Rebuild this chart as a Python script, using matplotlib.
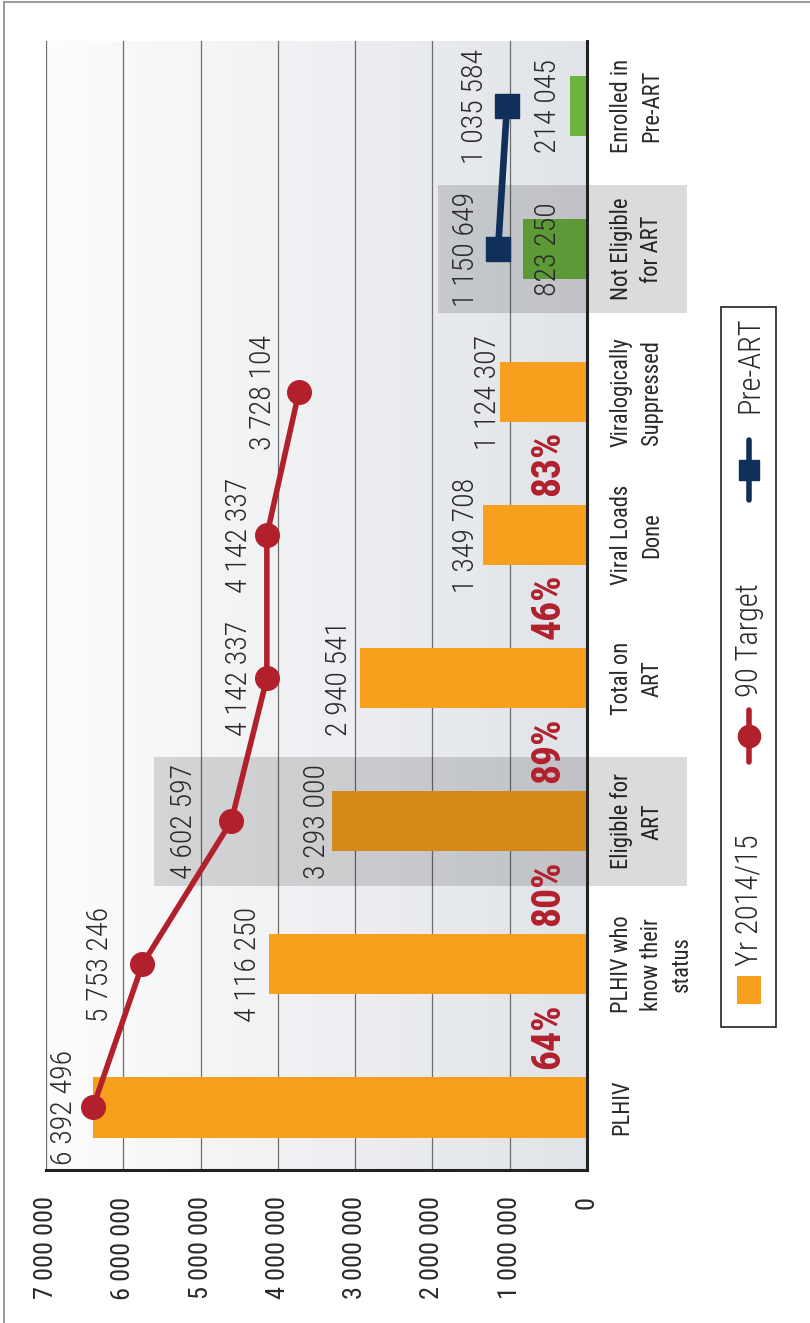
import numpy as np
import matplotlib
matplotlib.use("Agg")
import matplotlib.pyplot as plt
from matplotlib.patches import Rectangle
from matplotlib.lines import Line2D
from matplotlib.colors import LinearSegmentedColormap

plt.rcParams['font.family'] = ['Roboto Condensed', 'Roboto', 'DejaVu Sans']

# ---------------- data ----------------
categories = ["PLHIV", "PLHIV who\nknow their\nstatus", "Eligible for\nART", "Total on\nART",
              "Viral Loads\nDone", "Viralogically\nSuppressed", "Not Eligible\nfor ART", "Enrolled in\nPre-ART"]
bar_values = [6392496, 4116250, 3293000, 2940541, 1349708, 1124307, 823250, 214045]
target_values = [6392496, 5753246, 4602597, 4142337, 4142337, 3728104]
preart_values = [1150649, 1035584]
percentages = [64, 80, 89, 46, 83]
value_ticks = [0, 1000000, 2000000, 3000000, 4000000, 5000000, 6000000, 7000000]
legend_labels = ["Yr 2014/15", "90 Target", "Pre-ART"]

# ---------------- style ----------------
ORANGE = '#F7A01E'
GREEN = '#6DB33F'
RED = '#B2202C'
NAVY = '#10305A'
TXT = '#2A2A2A'

W, H = 810, 1323
fig = plt.figure(figsize=(W / 100, H / 100), dpi=100)
fig.patch.set_facecolor('white')

def fx(px):
    return px / W

def fy(py):
    return 1 - py / H

ax = fig.add_axes([fx(46), fy(1170), fx(587) - fx(46), fy(41) - fy(1170)])
ax.set_facecolor('none')

# gradient background
cmap = LinearSegmentedColormap.from_list('bg', ['#FDFDFD', '#E0E3E8'])
ax.imshow(np.linspace(0, 1, 256).reshape(1, -1), cmap=cmap, extent=[0, 1, 0, 1],
          transform=ax.transAxes, aspect='auto', zorder=0)

n = len(categories)
ypos = np.arange(n)

colors = [ORANGE] * 6 + [GREEN] * 2
ax.barh(ypos, bar_values, height=0.42, color=colors, zorder=2)

# highlighted bands (Eligible for ART / Not Eligible for ART)
for yc, x_left in [(2, 5.6e6), (6, 1.93e6)]:
    ax.add_patch(Rectangle((-1.29e6, yc - 0.45), x_left + 1.29e6, 0.9, facecolor='black',
                           alpha=0.14, edgecolor='none', clip_on=False, zorder=3))

# lines
ax.plot(target_values, ypos[:len(target_values)], color=RED, lw=4, marker='o', ms=17, zorder=5,
        solid_capstyle='round')
ax.plot(preart_values, ypos[6:8], color=NAVY, lw=4.8, marker='s', ms=17, zorder=5)

def fmt(v):
    return f"{v:,}".replace(",", " ")

LBL = 21.5
LW_ = 'light'
# target labels (offset in px to the left of the point)
target_offsets = [29, 42, 47, 28, 28, 36]
for v, y, off in zip(target_values, ypos, target_offsets):
    ax.annotate(fmt(v), xy=(v, y), xytext=(-off * 0.72, 0), textcoords='offset points',
                rotation=90, ha='center', va='center', fontsize=LBL, fontweight=LW_,
                color=TXT, zorder=6)

# bar labels (orange bars, skipping PLHIV which shares the target label)
bar_offsets = [None, 21, 15, 21, 17, 12]
for i in range(1, 6):
    ax.annotate(fmt(bar_values[i]), xy=(bar_values[i], ypos[i]), xytext=(-bar_offsets[i] * 0.72, 0),
                textcoords='offset points', rotation=90, ha='center', va='center',
                fontsize=LBL, fontweight=LW_, color=TXT, zorder=6)
# green bar labels
for i in (6, 7):
    ax.text(0.5e6, ypos[i], fmt(bar_values[i]), rotation=90, ha='center', va='center',
            fontsize=LBL, fontweight=LW_, color=TXT, zorder=6)

# pre-ART labels
for v, y in zip(preart_values, ypos[6:8]):
    ax.annotate(fmt(v), xy=(v, y), xytext=(-32 * 0.72, 0), textcoords='offset points',
                rotation=90, ha='center', va='center', fontsize=LBL, fontweight=LW_,
                color=TXT, zorder=6)

# percentages
for i, p in enumerate(percentages):
    ax.text(0.5e6, i + 0.5, f"{p}%", rotation=90, ha='center', va='center', fontsize=28.5,
            fontweight='bold', color=RED, zorder=6)

# axes
ax.set_xlim(7e6, 0)
ax.set_ylim(-0.437, 7.454)
ax.set_xticks(value_ticks)
ax.set_xticklabels([fmt(v) for v in value_ticks], rotation=90, fontsize=19, color=TXT)
ax.tick_params(axis='x', length=0, pad=19)
ax.grid(axis='x', color='#6E6E6E', lw=0.9)
ax.set_axisbelow(True)

ax.yaxis.tick_right()
ax.set_yticks(ypos)
ax.set_yticklabels(categories, rotation=90, fontsize=16.3, color=TXT, linespacing=1.4)
for t in ax.get_yticklabels():
    t.set_ha('left')
    t.set_va('center')
    t.set_multialignment('center')
ax.tick_params(axis='y', length=0, pad=16.5)

for s in ('top', 'left'):
    ax.spines[s].set_visible(False)
for s in ('right', 'bottom'):
    ax.spines[s].set_color('#222222')
    ax.spines[s].set_linewidth(2.2)
    ax.spines[s].set_zorder(4)

# legend (manual, rotated)
fig.add_artist(Rectangle((fx(721), fy(1027)), fx(776) - fx(721), fy(307) - fy(1027),
                         transform=fig.transFigure, fill=False, ec='#222222', lw=1.2))
fig.add_artist(Rectangle((fx(737), fy(1004)), fx(761) - fx(737), fy(976) - fy(1004),
                         transform=fig.transFigure, fc=ORANGE, ec='none'))
LEG = 22
fig.text(fx(750), fy(900), legend_labels[0], rotation=90, ha='center', va='center',
         fontsize=LEG, fontweight=LW_, color=TXT)
fig.add_artist(Line2D([fx(749), fx(749)], [fy(762), fy(710)], transform=fig.transFigure,
                      color=RED, lw=4, solid_capstyle='round'))
fig.add_artist(Line2D([fx(749)], [fy(736)], transform=fig.transFigure, color=RED, marker='o',
                      ms=16, ls='none'))
fig.text(fx(750), fy(640), legend_labels[1], rotation=90, ha='center', va='center',
         fontsize=LEG, fontweight=LW_, color=TXT)
fig.add_artist(Line2D([fx(749), fx(749)], [fy(500), fy(440)], transform=fig.transFigure,
                      color=NAVY, lw=4, solid_capstyle='round'))
fig.add_artist(Line2D([fx(749)], [fy(470)], transform=fig.transFigure, color=NAVY, marker='s',
                      ms=15, ls='none'))
fig.text(fx(750), fy(365), legend_labels[2], rotation=90, ha='center', va='center',
         fontsize=LEG, fontweight=LW_, color=TXT)

# outer frame (top and left)
fig.add_artist(Line2D([fx(4), 1], [fy(2), fy(2)], transform=fig.transFigure, color='#8A8A8A', lw=1.2))
fig.add_artist(Line2D([fx(4), fx(4)], [fy(2), 0], transform=fig.transFigure, color='#8A8A8A', lw=1.2))

fig.savefig('out.png', dpi=100)
